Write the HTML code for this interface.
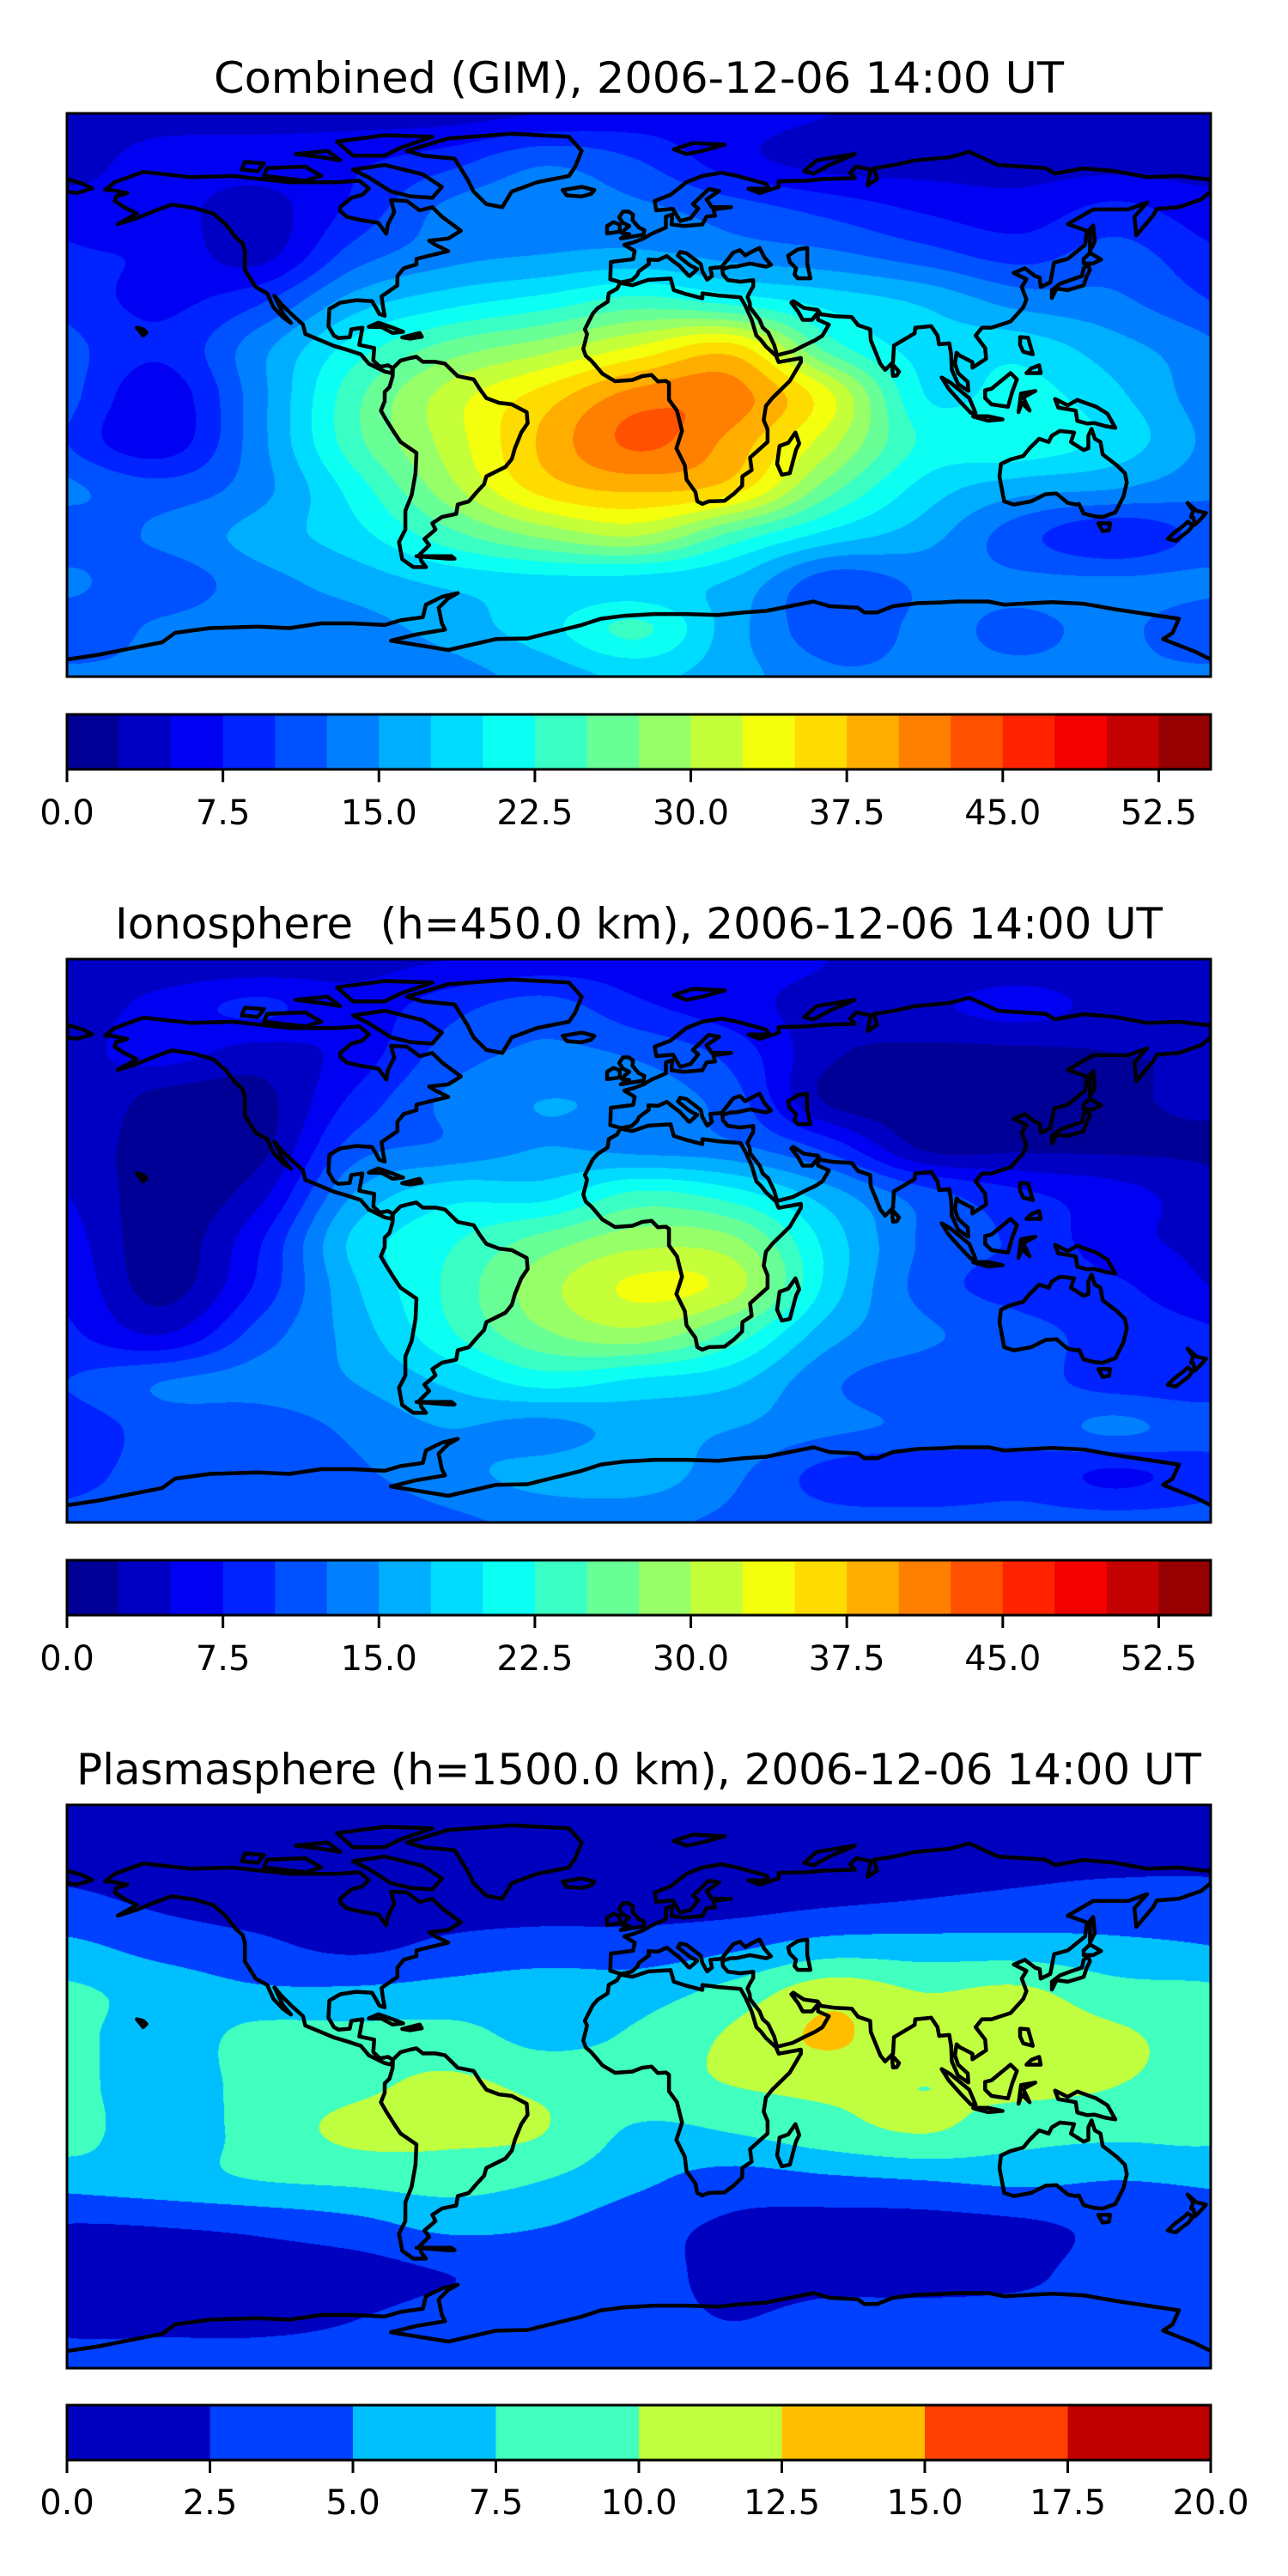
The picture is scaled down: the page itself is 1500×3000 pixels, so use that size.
<!DOCTYPE html>
<html><head><meta charset="utf-8">
<style>
html,body{margin:0;padding:0;background:#fff;}
#wrap{position:relative;width:1500px;height:3000px;overflow:hidden;}
canvas{position:absolute;}
svg{position:absolute;left:0;top:0;}
</style></head>
<body>
<div id="wrap">
<canvas id="c1" width="1332" height="656" style="left:78px;top:132px"></canvas>
<canvas id="c2" width="1332" height="656" style="left:78px;top:1117px"></canvas>
<canvas id="c3" width="1332" height="656" style="left:78px;top:2102px"></canvas>
<svg id="ov" width="1500" height="3000" xmlns="http://www.w3.org/2000/svg"></svg>
</div>
<script>
// grid: lon -180..180 step 30 (13 cols), lat 90..-90 step 15 (13 rows)
const lons=[-180,-150,-120,-90,-60,-30,0,30,60,90,120,150,180];
const lats=[90,75,60,45,30,15,0,-15,-30,-45,-60,-75,-90];
const combined=[
[4,4,4,4,4,5,6,6,5,4,4,4,4],
[4,6,6,7,9,12,10,6,4,4,4,4,4],
[6,6,4,8,13,14,13,11,9,7,6,8,6],
[8,7,4,11,14,15,15.5,14,13,11,9,11,8],
[9,7,9.5,16,19,21,23.5,21.5,19,17,14,13,10],
[11,8,14,21,26,29,33,36,24,19,19,16,13],
[11,6,14,24,31,36,41,41,33,20,21,18,13],
[10,6,14,24,31,38,43,39,31,22,22,19,14],
[13,11,14,21,29,36,38,36,26,19,16,15,13],
[11,13,16,19,24,28,30,24,19,16,11,8,11],
[13,11,14,16,18,19,19,17,11,13,13,13,13],
[11,13,14,14,16,19,23,16,11,13,12,13,11],
[13,13,13,13,14,16,18,16,13,13,13,13,13]];
const ionosphere=[
[3,3,3,4,5,6,6,6,5,3,3,3,3],
[3.5,6,8,6,9,11,8,6,4,4.5,6,4,3.5],
[4,6,4,6,11,13,12,9,3,2,2,2.5,3],
[5,1.5,1.5,8,13,15,14,11,2,1.5,1.5,2,3],
[4,1,1.5,11,13,15,14,13,9,2,2,2,2],
[5,1,4,15,19,19,23,21,16,11,8,6,3.5],
[6,1,7,18,22,26,29,28,19,12,9.5,6,4],
[7,1.5,8,17,23,29,33,31,19,11.5,9,8,5],
[8,5,11,16,22,27,29,24,16,13,11,9,8],
[10,12.5,13.5,15,18,21,19.5,18,13,11,11,9,9],
[9,11,11,13,15,14,16,15,13,12,11,13,11],
[9,11,11,12,14,16,16.5,13,9,8,9,7,9],
[11,11,11,11,12,13,13,12,11,11,11,11,11]];
const plasmasphere=[
[1.5,1.5,1.5,1.5,1.5,1.5,1.5,1.5,1.5,1.5,1.5,1.5,1.5],
[1.5,1.5,1.5,1.5,1.5,1.5,1.5,1.5,1.5,1.5,1.5,1.5,1.5],
[3,2,1.5,1.5,1.5,1.5,1.5,1.5,2,2.5,3,3.5,3.5],
[5.5,4,3,2,3,3.5,3.5,4.5,6,6,6,5.5,5],
[8,6.5,5.5,5.5,6,6.5,6.5,8.5,11.5,10,10.5,8.5,8],
[8.5,6,8.5,8.5,8.5,7,8,10.5,12.8,10.5,11,10.5,8.5],
[8.5,6,8.5,9.5,10.5,9.5,9,10,10.5,10,10.5,10,8.5],
[8.5,6,8.5,10.5,10.5,10,7,7.5,9,10,8.5,8,8],
[6,6.5,7.5,8,8.5,7.5,5.5,4,4.5,5,5.5,5,5.5],
[2.3,2.5,3,4,5.5,5,3.5,2,1.5,1.5,2,3,3],
[1.5,1.5,1.5,1.5,2.5,3,3.5,1.5,1.5,1.5,2,3.5,3],
[2,2,2,2.5,3.5,3.5,3.5,2.5,3.5,3.5,3.5,3.5,3],
[3.5,3.5,3.5,3.5,3.5,3.5,3.5,3.5,3.5,3.5,3.5,3.5,3.5]];
const levelsA=[0,2.5,5,7.5,10,12.5,15,17.5,20,22.5,25,27.5,30,32.5,35,37.5,40,42.5,45,47.5,50,52.5,55];
const ticksA=["0.0","7.5","15.0","22.5","30.0","37.5","45.0","52.5"];
const tickValsA=[0,7.5,15,22.5,30,37.5,45,52.5];
const levelsB=[0,2.5,5,7.5,10,12.5,15,17.5,20];
const ticksB=["0.0","2.5","5.0","7.5","10.0","12.5","15.0","17.5","20.0"];
const tickValsB=[0,2.5,5,7.5,10,12.5,15,17.5,20];
const titles=["Combined (GIM), 2006-12-06 14:00 UT","Ionosphere\u00A0 (h=450.0 km), 2006-12-06 14:00 UT","Plasmasphere (h=1500.0 km), 2006-12-06 14:00 UT"];

function jet(x){const c=v=>Math.round(255*Math.max(0,Math.min(1,v)));
 return [c(1.5-Math.abs(4*x-3)),c(1.5-Math.abs(4*x-2)),c(1.5-Math.abs(4*x-1))];}
function levelColor(i,n){return jet((i+0.5)/n);}
function cr(p0,p1,p2,p3,t){return 0.5*((2*p1)+(-p0+p2)*t+(2*p0-5*p1+4*p2-p3)*t*t+(-p0+3*p1-3*p2+p3)*t*t*t);}
function sample(g,fx,fy){
 const R=g.length-1,C=g[0].length-1;
 let ix=Math.min(Math.floor(fx),C-1),iy=Math.min(Math.floor(fy),R-1);
 const tx=fx-ix,ty=fy-iy;const rows=[];
 for(let j=-1;j<=2;j++){const r=g[Math.max(0,Math.min(R,iy+j))];
  const px=k=>{let kk=ix+k;if(kk<0)kk+=C;if(kk>C)kk-=C;return r[kk];};
  rows.push(cr(px(-1),px(0),px(1),px(2),tx));}
 return cr(rows[0],rows[1],rows[2],rows[3],ty);}
function drawField(id,g,levels){
 const cv=document.getElementById(id),ctx=cv.getContext('2d');
 const W=cv.width,H=cv.height,img=ctx.createImageData(W,H),n=levels.length-1;
 const cols=[];for(let i=0;i<n;i++)cols.push(levelColor(i,n));
 for(let y=0;y<H;y++){const fy=(y+0.5)/H*(lats.length-1);
  for(let x=0;x<W;x++){const fx=(x+0.5)/W*(lons.length-1);
   const v=sample(g,fx,fy);let k=0;while(k<n-1&&v>=levels[k+1])k++;
   const c=cols[k],o=(y*W+x)*4;img.data[o]=c[0];img.data[o+1]=c[1];img.data[o+2]=c[2];img.data[o+3]=255;}}
 ctx.putImageData(img,0,0);}
drawField('c1',combined,levelsA);
drawField('c2',ionosphere,levelsA);
drawField('c3',plasmasphere,levelsB);

// coastlines in lon/lat (closed unless listed in openIdx)
const coasts=[
// North America
[[-168,65.5],[-165,68],[-156,71.3],[-141,69.6],[-128,70],[-110,68],[-95,68],[-88,68.5],[-85,66],[-87,64],[-90.5,63],[-94,60],[-94,58.8],[-92,57],[-88,56],[-82,55],[-79.5,51.5],[-79,54.5],[-77,58.5],[-78,62.3],[-73,62],[-69,59],[-65,60],[-62,57],[-56,52.5],[-60,50],[-66,49.3],[-64,48],[-60,46],[-66,44.5],[-70,43.5],[-70,41.7],[-74,40.5],[-76,38],[-76,35],[-81,31.5],[-80.5,28],[-80,25.3],[-81.7,25.9],[-82.8,28],[-84,30],[-89,30.3],[-94,29.5],[-97.4,27.5],[-97.7,22],[-96,19],[-94.5,18.2],[-91,18.5],[-90.5,21],[-87,21.5],[-88,16],[-83.3,15],[-83.6,11],[-81.5,9],[-79,9.5],[-77.4,8.6],[-78,7],[-80,7.5],[-85,10],[-87.5,13],[-92,14.5],[-96,15.7],[-105,19.5],[-105.7,22.5],[-109,25.5],[-112.5,29],[-114.7,31.7],[-112,26],[-109.5,23],[-112,24.8],[-115,28],[-117,32.5],[-120.6,34.5],[-124,40],[-124,46],[-124.7,48.4],[-127,50.5],[-130,54.5],[-134,58],[-140,59.8],[-147,60.8],[-152,59],[-158,56.5],[-164,54.6],[-158,58],[-162,60],[-165,62],[-164.5,63.5],[-161,64.5],[-166,65.5]],
// Greenland
[[-73,78],[-60,82],[-40,83.5],[-22,82.5],[-18,78],[-20,73],[-22,70],[-32,68],[-40,65],[-43,60],[-48,61],[-52,65],[-54,69],[-58,75.5],[-68,76.5]],
[[-90,72],[-80,73.5],[-68,70.5],[-62,66.5],[-65,63],[-72,63.5],[-78,65],[-85,69.5]],
[[-90,76.5],[-80,76.5],[-75,79],[-65,82.5],[-80,83],[-95,81]],
[[-118,70],[-105,68.5],[-100,70],[-105,73],[-117,72.5]],
[[-125,72],[-120,71.5],[-118,74],[-124,74.5]],
[[-100,76],[-94,75],[-98,78],[-108,77]],
// South America
[[-77.4,8.6],[-75,11],[-72,11.8],[-70,12.2],[-68,10.6],[-64,10.6],[-61,10],[-57,6],[-52,5],[-50,1.8],[-48,-1],[-44,-2.5],[-40,-3],[-35.3,-5.5],[-35,-9],[-37,-12],[-39,-17],[-40,-20.5],[-42,-23],[-48,-26],[-48.7,-28.5],[-51,-31],[-53.5,-34],[-57,-35],[-57.5,-38],[-62,-39],[-65,-41],[-64,-43],[-67.5,-46],[-66,-48],[-69,-51],[-68.5,-53],[-67,-55],[-71,-55],[-74.5,-52.5],[-75.5,-47],[-73.5,-43],[-73.5,-37],[-71.5,-32],[-70.3,-25],[-70,-18.5],[-75,-15],[-77,-12],[-79.5,-8],[-81.2,-5],[-80,-2],[-80,1],[-78.5,2.5],[-77.5,6]],
// Africa
[[-5.9,35.8],[-2,35.1],[3,36.8],[10,37.2],[11,33.5],[15,32.2],[20,30.9],[20,32.5],[25,31.8],[32,31.2],[33.5,28.5],[35.5,24],[37,19],[38.5,17.5],[40,15.5],[43.2,12.5],[44,10.5],[51,11.8],[51,10.5],[47.5,4.5],[42,-1],[40,-3.5],[39.3,-8],[40.5,-11],[40.5,-15],[35,-20],[35.5,-24],[32.6,-26],[32.5,-29],[30,-31.5],[27,-33.8],[22,-34],[20,-34.8],[18.4,-34],[17.8,-31],[15,-27],[14.5,-22.5],[11.8,-17],[13.6,-11.5],[12,-5],[9.5,-1.5],[9.5,3.8],[8.5,4.5],[6,4.3],[4,6.4],[1,6],[-2,4.8],[-7.5,4.4],[-11.5,6.8],[-13.3,9],[-15,11],[-16.7,12.5],[-17.5,14.7],[-16.3,19.5],[-17,21],[-14.5,26],[-13,27.7],[-9.8,29.8],[-9.5,32.5],[-6.8,34]],
[[49.3,-12],[50.5,-15.5],[49.5,-17.5],[47.5,-25],[45,-25.5],[43.5,-22],[44.3,-16.3],[47,-15.3]],
// Eurasia
[[-5.6,36],[-9,37],[-8.8,42.5],[-1.8,43.4],[-1.3,46],[-4.6,48],[-1.6,48.8],[1.5,50],[4,51.5],[8.5,53.5],[8.5,57],[10.5,57.7],[10.3,54.5],[14,54],[20,54.5],[21.3,57],[24,57.3],[23.5,59.3],[29,60],[23,60],[21.3,62.5],[25.3,65.2],[22,65.8],[17,61],[18.7,59.6],[16.3,56.5],[13,55.6],[10.7,59.5],[5.5,59],[5,62],[10,64],[15,68],[20,70],[26,71],[31,70],[40,67.5],[41,66],[34.5,65.9],[38,64.5],[44,66.5],[44,68.3],[53,68.5],[58,69],[68,69.3],[66.5,71],[68.5,73],[73,72],[72,67],[75,69],[74,72.5],[80.5,73.5],[87,75],[98,76],[104,77.7],[113,73.5],[128,72.5],[131,70.8],[140,72.4],[150,71.5],[160,69.6],[170,70],[178,69],[180,69],[180,65],[177,62.5],[170,60],[163,59.5],[162,57.5],[156.6,51],[156,57],[160,61.5],[154,59.3],[143,59.3],[135,54.6],[141,52.5],[140.5,48],[135,43.5],[130.7,42.3],[129.5,36],[126.5,34.5],[126.2,37.5],[124.7,38],[121.5,40.5],[118,39],[122,37],[120.5,34.5],[122,30.5],[121,28],[117,23.5],[111,21.5],[108,21.5],[106,19],[109,15],[109.3,11.6],[105,8.7],[105,10.5],[101,12.6],[100,13.5],[99.5,10],[100.5,7],[103.5,4.2],[103.7,1.3],[100.5,3.5],[98.5,8],[98.3,13],[97.7,16.5],[94.5,16.2],[94,19],[92,22],[90,21.8],[87,21.5],[86.8,19.7],[80.3,15.8],[80,10.5],[77.5,8],[76,10],[73,17.5],[72.8,21],[69,22.3],[67,24.9],[61.5,25.2],[57.3,25.8],[56.3,27.2],[52,27.8],[48.6,30],[48,29.5],[50.2,26.6],[51.6,24],[54.5,24],[56.3,26.2],[56.4,24],[59.8,22.5],[57.8,19],[55.5,17.5],[52,15.8],[48.5,14],[43.5,12.7],[42.6,16],[40.7,20],[39,21.5],[38,24],[35,28],[34.9,29.5],[34.2,31.3],[35,33],[36,34.7],[36,36.7],[32,36.2],[28,36.7],[26.5,38.5],[26.3,40.2],[28.8,41],[31,41.1],[35,42],[40,41],[41.6,41.6],[39.5,44],[38,47],[35,45.5],[33.5,44.6],[31.8,46.3],[29.7,45.5],[28,43.3],[26,40.8],[24,40.7],[22.5,40.5],[23,38],[21.5,36.8],[20,39.5],[19.5,41.8],[15,45.3],[13,45.7],[12.3,44.5],[16,41.5],[18.4,40.2],[16,38],[15.6,38.2],[12.8,41.3],[10.5,43],[8.8,44.4],[6,43.1],[3,43.3],[3.2,41.9],[0,39.5],[-0.5,38.3],[-2.2,36.7]],
[[-180,69],[-175,67.5],[-172,66],[-177,64.5],[-180,65]],
[[47,44.5],[50,46.5],[53,47],[53,42],[54,37.3],[50,37.3],[49,38.5],[49.5,40.5],[47.5,42.5]],
[[-5.7,50],[1.5,51.2],[1.7,52.7],[0,53.5],[-2,55.9],[-1.8,57.6],[-3.2,58.6],[-5,58.6],[-6.2,56.8],[-5,55],[-3,54],[-4.5,52.8],[-5.3,51.7],[-3,51.4]],
[[-10,51.6],[-6,52.2],[-6,54.5],[-8,55.2],[-10,54]],
[[-24,65.5],[-18,66.5],[-14,65.5],[-15,64.3],[-18,63.4],[-22.7,63.8]],
[[11,78.5],[17,80.5],[27,80],[20,78],[15,77]],
[[52,71.5],[56,75],[68,77],[60,73.5],[55,70.7]],
[[130,31],[131.5,34],[135,33.5],[140,35],[141,38],[142,40],[141.5,41.5],[140,40.5],[139.5,38],[136.5,37],[132.5,35.5],[130,33.5]],
[[140,42],[143,42],[145.5,43.3],[142,45.4],[140,43.5]],
[[142,46],[143.5,49],[143,54.2],[142,53]],
[[120,18.5],[122.5,18.3],[124,13],[121,13.8],[120,16]],
[[122,7],[126.5,7],[126,9.5],[123.5,8.5]],
[[109,1.5],[111,2],[114,4.5],[117,7],[119,5],[117.5,1],[116.2,-3.8],[111,-3],[109,-1]],
[[95.3,5.6],[98,4],[104,-1],[106,-5.8],[104.5,-5.7],[101,-2],[97.5,2]],
[[105.2,-6.8],[110,-6.8],[114.5,-7.8],[110,-8.2],[105.5,-7]],
[[119.5,-5.5],[120.3,0.5],[124.8,1.3],[121,-0.8],[123,-5],[120.5,-2.5]],
[[131,-1.3],[135,-3.3],[138,-1.6],[144,-3.8],[147.5,-6],[150,-10.5],[147,-10],[143.5,-9],[141,-9.1],[138,-8.3],[137.5,-5],[132,-4]],
[[114,-22],[113.5,-26],[115,-34],[118,-35],[123.5,-34],[128,-31.7],[131.5,-31.5],[135,-34.5],[137.5,-35],[138.5,-34.8],[140,-37.9],[143.5,-38.8],[146,-39],[150,-37.5],[152.5,-32.5],[153.6,-28],[153,-25],[150.5,-22.5],[146,-19],[145.3,-15],[143.5,-14],[142.5,-10.8],[141.5,-13],[141.5,-17],[140,-17.6],[136,-15],[137,-12],[132.5,-11.5],[130,-13],[129,-15],[126,-14],[123,-17],[121,-19.5],[117,-20.6]],
[[144.6,-41],[148.3,-41],[148,-43.2],[146,-43.5]],
[[172.7,-34.5],[175.5,-37],[178.5,-37.7],[177,-39.5],[175,-41.5],[174.6,-39.3],[173.8,-39],[174.5,-37]],
[[172.8,-40.5],[174.3,-41.7],[173,-43.5],[171,-45],[169,-46.6],[166.5,-46],[168.5,-44],[171.5,-41.7]],
[[79.8,9.8],[81.9,7.5],[81.2,6.2],[80,6.1],[79.8,8]],
[[-85,21.8],[-82,23.1],[-77.5,21.5],[-74.2,20.2],[-77.5,19.8],[-81,21.7]],
[[-74.5,18.4],[-69,19.8],[-68.3,18.6],[-72,18]],
[[-156,19],[-155,20],[-156,21],[-158,21.5]],
[[-70,-51.5],[-59,-51.5],[-58,-52.3],[-60,-52.3]],
// Antarctica (open)
[[-180,-84.5],[-170,-83],[-160,-81],[-150,-79],[-146,-76],[-135,-74.5],[-120,-74],[-110,-74.5],[-100,-73],[-90,-73],[-80,-73.5],[-75,-72],[-68,-71],[-67,-67],[-62,-64.5],[-57,-63.3],[-60,-65],[-63,-68],[-62,-73],[-61,-75],[-70,-76.5],[-78,-78.5],[-60,-81.5],[-45,-78],[-35,-77.8],[-28,-76],[-18,-73.5],[-12,-71.5],[-5,-70.6],[5,-70],[15,-70],[25,-70.3],[33,-69.5],[40,-69],[50,-67],[55,-66],[60,-67.5],[69,-68],[71,-69.5],[75,-69.5],[80,-67.5],[88,-66.5],[95,-66.3],[100,-66],[110,-66],[115,-67],[120,-66.7],[130,-66.2],[140,-66.7],[150,-68.5],[160,-70],[170,-71.5],[168,-76],[165,-78],[175,-82],[180,-84.5]]
];
const NS='http://www.w3.org/2000/svg';
const ov=document.getElementById('ov');
function mk(tag,attrs,parent){const e=document.createElementNS(NS,tag);for(const k in attrs)e.setAttribute(k,attrs[k]);(parent||ov).appendChild(e);return e;}
const mapX=78,mapW=1332,mapH=656;
const mapTops=[132,1117,2102];
const cbTops=[832,1817,2801],cbH=64;
const titleY=[108,1093,2078];
const titleLen=[990,1220,1310];
const tickY=[960,1945,2928];
const names=['combined','ionosphere','plasmasphere'];
for(let m=0;m<3;m++){
 const top=mapTops[m];
 const cid='clip'+m;
 const defs=mk('defs',{});
 const cp=mk('clipPath',{id:cid},defs);
 mk('rect',{x:mapX,y:top,width:mapW,height:mapH},cp);
 const g=mk('g',{'clip-path':'url(#'+cid+')'});
 
 
 coasts.forEach((c,ci)=>{
  const open=(ci===coasts.length-1);
  const d=c.map((p,i)=>(i?'L':'M')+(mapX+(p[0]+180)/360*mapW).toFixed(1)+' '+(top+(90-p[1])/180*mapH).toFixed(1)).join(' ');
  mk('path',{d:d+(open?'':' Z'),fill:'none',stroke:'#000','stroke-width':4.5,'stroke-linejoin':'round'},g);
 });
 const fr=mk('rect',{x:mapX,y:top,width:mapW,height:mapH,fill:'none',stroke:'#000','stroke-width':3});
 
 
 const t=mk('text',{x:mapX+mapW/2,y:titleY[m],'text-anchor':'middle','font-family':'DejaVu Sans, Liberation Sans, sans-serif','font-size':50,textLength:titleLen[m],lengthAdjust:'spacingAndGlyphs'});
 t.textContent=titles[m];
 
 
 const lv=m<2?levelsA:levelsB, tv=m<2?tickValsA:tickValsB, tl=m<2?ticksA:ticksB;
 const n=lv.length-1,vmin=lv[0],vmax=lv[n];
 const sx=v=>mapX+(v-vmin)/(vmax-vmin)*mapW;
 const cb=mk('g',{});
 
 
 for(let i=0;i<n;i++){const c=levelColor(i,n);
  const r=mk('rect',{x:sx(lv[i]),y:cbTops[m],width:sx(lv[i+1])-sx(lv[i])+0.6,height:cbH,fill:'rgb('+c.join(',')+')'},cb);
  
  }
 mk('rect',{x:mapX,y:cbTops[m],width:mapW,height:cbH,fill:'none',stroke:'#000','stroke-width':3},cb);
 tv.forEach((v,i)=>{
  mk('line',{x1:sx(v),x2:sx(v),y1:cbTops[m]+cbH,y2:cbTops[m]+cbH+15,stroke:'#000','stroke-width':3},cb);
  const lt=mk('text',{x:sx(v),y:tickY[m],'text-anchor':'middle','font-family':'DejaVu Sans, Liberation Sans, sans-serif','font-size':40},cb);
  lt.textContent=tl[i];
  
  
 });
}
</script>
</body></html>
